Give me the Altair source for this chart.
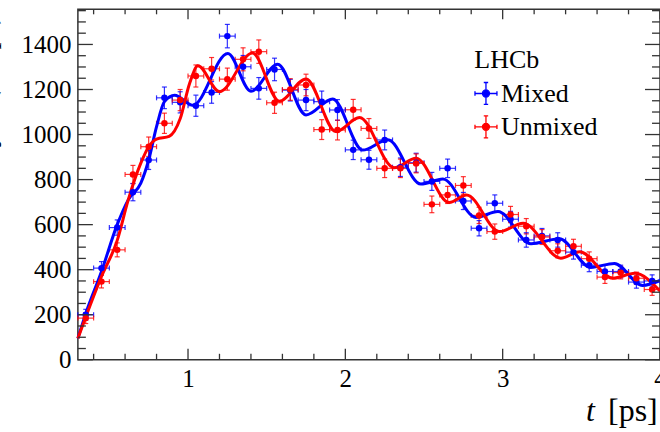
import altair as alt
import pandas as pd

# ---------------- data ----------------
bin_centres = [0.35, 0.45, 0.55, 0.65, 0.75, 0.85, 0.95, 1.05, 1.15, 1.25,
               1.35, 1.45, 1.55, 1.65, 1.75, 1.85, 1.95, 2.05, 2.15, 2.25,
               2.35, 2.45, 2.55, 2.65, 2.75, 2.85, 2.95, 3.05, 3.15, 3.25,
               3.35, 3.45, 3.55, 3.65, 3.75, 3.85, 3.95]
half_bin = 0.05

mixed = [200, 407, 587, 744, 887, 1163, 1143, 1128, 1187, 1437,
         1301, 1205, 1289, 1197, 1153, 1146, 1109, 932, 888, 976,
         855, 875, 792, 850, 705, 584, 695, 624, 532, 550,
         532, 478, 420, 392, 392, 345, 350]
mixed_err = [24, 29, 34, 38, 42, 48, 47, 47, 48, 52,
             50, 48, 50, 48, 47, 47, 46, 43, 42, 44,
             41, 42, 40, 41, 38, 34, 37, 35, 32, 33,
             32, 31, 29, 28, 28, 27, 27]

unmixed = [185, 347, 488, 823, 946, 1050, 1153, 1260, 1292, 1246,
           1334, 1368, 1141, 1200, 1220, 1022, 1020, 1110, 1027, 850,
           850, 872, 690, 732, 774, 641, 569, 645, 593, 545,
           484, 504, 449, 367, 387, 362, 312]
unmixed_err = [24, 28, 31, 40, 43, 45, 47, 49, 50, 49,
               51, 52, 47, 48, 48, 44, 44, 46, 44, 41,
               41, 42, 37, 38, 39, 36, 34, 36, 34, 33,
               31, 31, 30, 28, 28, 27, 26]

# fitted curves (read at extrema / shape points)
fit_t_mixed = [0.30, 0.35, 0.45, 0.55, 0.62, 0.70, 0.75, 0.80, 0.85, 0.915,
               1.03, 1.253, 1.40, 1.57, 1.75, 1.92, 2.11, 2.27, 2.48, 2.62,
               2.83, 2.97, 3.18, 3.36, 3.56, 3.71, 3.89, 4.00]
fit_mixed = [95, 205, 392, 600, 710, 784, 887, 1035, 1146, 1175,
             1130, 1360, 1192, 1312, 1087, 1158, 931, 977, 780, 803,
             632, 658, 515, 537, 410, 428, 330, 352]

fit_t_unmixed = [0.30, 0.35, 0.45, 0.55, 0.62, 0.70, 0.75, 0.80, 0.88, 0.95,
                 1.01, 1.063, 1.20, 1.41, 1.58, 1.75, 1.94, 2.09, 2.31, 2.45,
                 2.66, 2.77, 2.98, 3.13, 3.37, 3.49, 3.70, 3.84, 4.00]
fit_unmixed = [95, 190, 370, 530, 710, 873, 946, 980, 992, 1070,
               1227, 1305, 1190, 1362, 1148, 1247, 1013, 1076, 853, 895,
               698, 732, 569, 606, 451, 480, 362, 384, 305]

series_names = ["Mixed", "Unmixed"]
series_colors = ["#0000ff", "#ff0000"]
legend_title = "LHCb"
y_title = "Decays / (0.1 ps)"

x_major = [1, 2, 3, 4]
x_minor = [0.4, 0.6, 0.8, 1.2, 1.4, 1.6, 1.8, 2.2, 2.4, 2.6, 2.8,
           3.2, 3.4, 3.6, 3.8]
y_major = [0, 200, 400, 600, 800, 1000, 1200, 1400]
y_minor = [50, 100, 150, 250, 300, 350, 450, 500, 550, 650, 700, 750,
           850, 900, 950, 1050, 1100, 1150, 1250, 1300, 1350, 1450, 1500, 1550]

x_domain = [0.3, 4.0]
y_domain = [0, 1556]

# ---------------- tables ----------------
n = len(bin_centres)
data = pd.DataFrame({
    "t": bin_centres * 2,
    "n": mixed + unmixed,
    "err": mixed_err + unmixed_err,
    "series": [series_names[0]] * n + [series_names[1]] * n,
})
data["lo"] = data["n"] - data["err"]
data["hi"] = data["n"] + data["err"]
data["tlo"] = data["t"] - half_bin
data["thi"] = data["t"] + half_bin

fit = pd.DataFrame({
    "t": fit_t_mixed + fit_t_unmixed,
    "y": fit_mixed + fit_unmixed,
    "series": [series_names[0]] * len(fit_t_mixed)
              + [series_names[1]] * len(fit_t_unmixed),
})

xmaj = pd.DataFrame({"v": x_major})
xmin = pd.DataFrame({"v": x_minor})
ymaj = pd.DataFrame({"v": y_major})
ymin = pd.DataFrame({"v": y_minor})

W, H = 583, 351
FONT = "Liberation Serif, Times New Roman, Times, serif"
FRAME = "#333333"

xs = alt.Scale(domain=x_domain, nice=False, zero=False)
ys = alt.Scale(domain=y_domain, nice=False, zero=False)
cs = alt.Scale(domain=series_names, range=series_colors)

X_AXIS = alt.Axis(values=x_major, format="d", ticks=False, domain=False,
                  grid=False, labelFlush=False, labelFont=FONT,
                  labelFontSize=25, labelColor="black", labelPadding=7,
                  title=None)
Y_AXIS = alt.Axis(values=y_major, format="d", ticks=False, domain=False,
                  grid=False, labelFont=FONT, labelFontSize=25,
                  labelColor="black", labelPadding=7, title=None)

legend_path = ("M-1,0L1,0M-1,-0.2L-1,0.2M1,-0.2L1,0.2"
               "M0,-1L0,1M-0.2,-1L0.2,-1M-0.2,1L0.2,1"
               "M0.32,0A0.32,0.32,0,1,1,-0.32,0A0.32,0.32,0,1,1,0.32,0Z")

base = alt.Chart(data)
COL = alt.Color("series:N", scale=cs, legend=None)

# error bars
vbar = base.mark_rule(strokeWidth=1.2, opacity=0.8).encode(
    x=alt.X("t:Q", scale=xs, axis=X_AXIS),
    y=alt.Y("lo:Q", scale=ys, axis=Y_AXIS),
    y2="hi:Q", color=COL,
)
hbar = base.mark_rule(strokeWidth=1.2, opacity=0.8).encode(
    x=alt.X("tlo:Q", scale=xs, axis=X_AXIS), x2="thi:Q",
    y=alt.Y("n:Q", scale=ys, axis=Y_AXIS), color=COL,
)
cap_lo = base.mark_tick(orient="horizontal", size=5, thickness=1.2, opacity=0.8).encode(
    x=alt.X("t:Q", scale=xs, axis=X_AXIS), y=alt.Y("lo:Q", scale=ys, axis=Y_AXIS), color=COL)
cap_hi = base.mark_tick(orient="horizontal", size=5, thickness=1.2, opacity=0.8).encode(
    x=alt.X("t:Q", scale=xs, axis=X_AXIS), y=alt.Y("hi:Q", scale=ys, axis=Y_AXIS), color=COL)
cap_l = base.mark_tick(orient="vertical", size=5, thickness=1.2, opacity=0.8).encode(
    x=alt.X("tlo:Q", scale=xs, axis=X_AXIS), y=alt.Y("n:Q", scale=ys, axis=Y_AXIS), color=COL)
cap_r = base.mark_tick(orient="vertical", size=5, thickness=1.2, opacity=0.8).encode(
    x=alt.X("thi:Q", scale=xs, axis=X_AXIS), y=alt.Y("n:Q", scale=ys, axis=Y_AXIS), color=COL)

points = base.mark_point(filled=True, shape="circle", size=42, opacity=1).encode(
    x=alt.X("t:Q", scale=xs, axis=X_AXIS), y=alt.Y("n:Q", scale=ys, axis=Y_AXIS),
    color=COL,
)

curves = alt.Chart(fit).mark_line(strokeWidth=3, interpolate="monotone").encode(
    x=alt.X("t:Q", scale=xs, axis=X_AXIS), y=alt.Y("y:Q", scale=ys, axis=Y_AXIS),
    color=COL, order="t:Q",
)

# inward ticks on all four sides
TK = dict(color=FRAME, strokeWidth=1.3)
bot_maj = alt.Chart(xmaj).mark_rule(**TK).encode(
    x=alt.X("v:Q", scale=xs, axis=X_AXIS), y=alt.value(H), y2=alt.value(H - 11))
bot_min = alt.Chart(xmin).mark_rule(**TK).encode(
    x=alt.X("v:Q", scale=xs, axis=X_AXIS), y=alt.value(H), y2=alt.value(H - 6))
top_maj = alt.Chart(xmaj).mark_rule(**TK).encode(
    x=alt.X("v:Q", scale=xs, axis=X_AXIS), y=alt.value(0), y2=alt.value(10))
top_min = alt.Chart(xmin).mark_rule(**TK).encode(
    x=alt.X("v:Q", scale=xs, axis=X_AXIS), y=alt.value(0), y2=alt.value(5))
left_maj = alt.Chart(ymaj).mark_rule(**TK).encode(
    y=alt.Y("v:Q", scale=ys, axis=Y_AXIS), x=alt.value(0), x2=alt.value(15))
left_min = alt.Chart(ymin).mark_rule(**TK).encode(
    y=alt.Y("v:Q", scale=ys, axis=Y_AXIS), x=alt.value(0), x2=alt.value(8))
right_maj = alt.Chart(ymaj).mark_rule(**TK).encode(
    y=alt.Y("v:Q", scale=ys, axis=Y_AXIS), x=alt.value(W), x2=alt.value(W - 15))
right_min = alt.Chart(ymin).mark_rule(**TK).encode(
    y=alt.Y("v:Q", scale=ys, axis=Y_AXIS), x=alt.value(W), x2=alt.value(W - 8))

one = pd.DataFrame({"k": [0]})
TXT = dict(font=FONT, color="black", baseline="alphabetic")

# x-axis title "t [ps]" (t italic)
t_label = alt.Chart(one).mark_text(fontSize=32, fontStyle="italic",
                                   align="left", **TXT).encode(
    x=alt.value(509), y=alt.value(412), text=alt.value("t"))
ps_label = alt.Chart(one).mark_text(fontSize=32, align="left", **TXT).encode(
    x=alt.value(531), y=alt.value(412), text=alt.value("[ps]"))

# y-axis title, mostly outside the visible page as in the reference
y_label = alt.Chart(one).mark_text(fontSize=28, angle=270, align="right",
                                   **TXT).encode(
    x=alt.value(-83), y=alt.value(6), text=alt.value(y_title))

# legend block
leg_title = alt.Chart(one).mark_text(fontSize=26, align="left", **TXT).encode(
    x=alt.value(397), y=alt.value(59), text=alt.value(legend_title))
leg_layers = []
for i, (name, colr) in enumerate(zip(series_names, series_colors)):
    cy = 84.3 + i * 33.4
    leg_layers.append(alt.Chart(one).mark_point(
        shape=legend_path, size=484, filled=True, fill=colr, stroke=colr,
        strokeWidth=1.3, opacity=1).encode(x=alt.value(408.7), y=alt.value(cy)))
    leg_layers.append(alt.Chart(one).mark_text(fontSize=26, align="left",
                                               **TXT).encode(
        x=alt.value(423.7), y=alt.value(cy + 8.5), text=alt.value(name)))

chart = alt.layer(
    vbar, hbar, cap_lo, cap_hi, cap_l, cap_r, curves, points,
    bot_maj, bot_min, top_maj, top_min, left_maj, left_min, right_maj, right_min,
    t_label, ps_label, y_label, leg_title, *leg_layers,
).properties(
    width=W, height=H,
    padding={"left": 78, "top": 9, "right": 0, "bottom": 72},
    autosize=alt.AutoSizeParams(type="none"),
    background="white",
).configure_view(
    stroke=FRAME, strokeWidth=1.5
).configure_axis(
    labelFont=FONT, labelFontSize=25, labelColor="black"
)

chart.save("out.html", embed_options={"renderer": "svg", "actions": False})
